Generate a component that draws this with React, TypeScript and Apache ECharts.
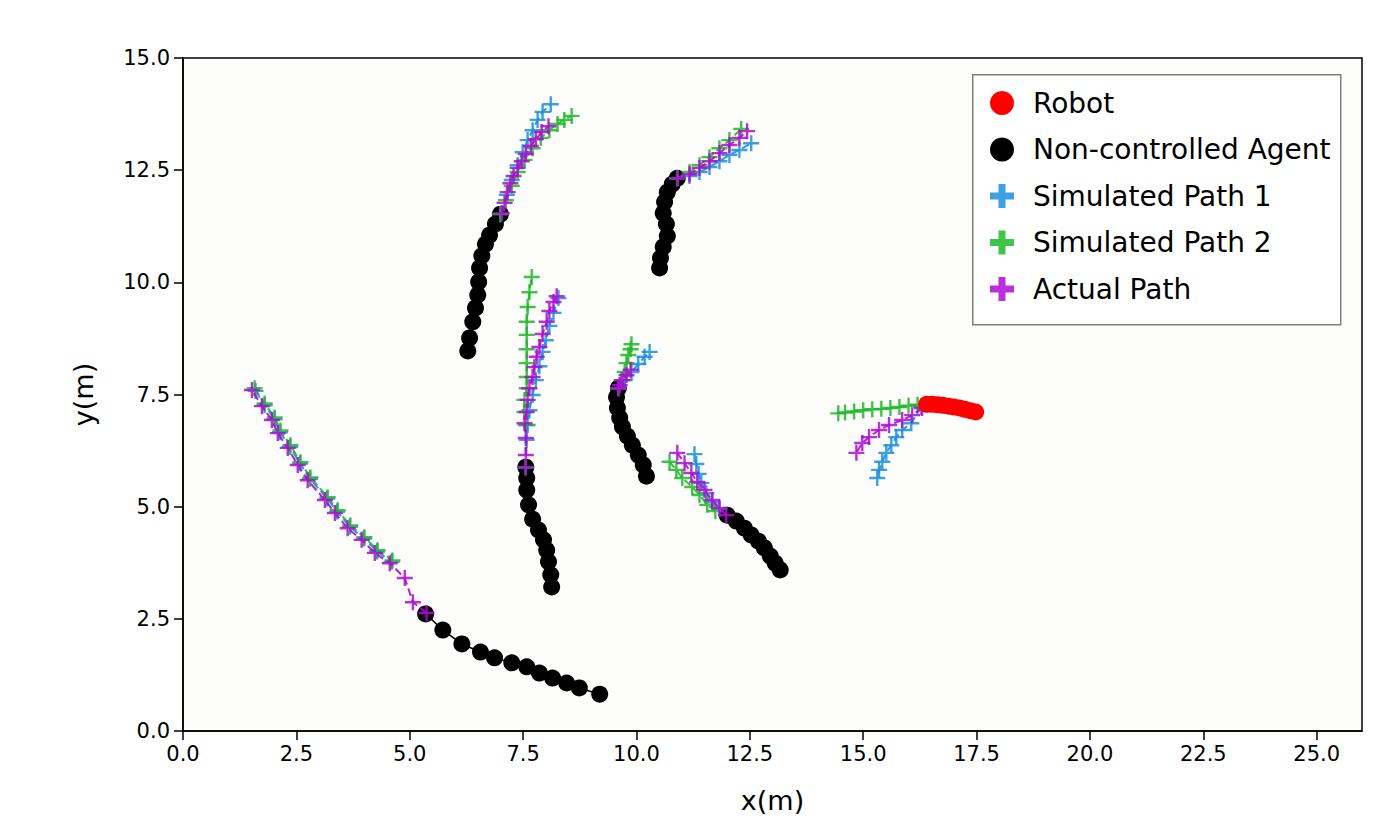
import { useEffect, useRef } from "react";
import * as echarts from "echarts";

type Pt = [number, number];

const xTicks = [0, 2.5, 5, 7.5, 10, 12.5, 15, 17.5, 20, 22.5, 25];
const yTicks = [0, 2.5, 5, 7.5, 10, 12.5, 15];

// robot (red)
const robotPath: Pt[] = [
  [16.4, 7.28], [16.52, 7.28], [16.64, 7.27], [16.76, 7.26], [16.88, 7.24],
  [17.0, 7.22], [17.12, 7.2], [17.24, 7.17], [17.36, 7.14], [17.48, 7.11],
];

// non-controlled agents (black)
const agentA: Pt[] = [
  [5.35, 2.61], [5.73, 2.25], [6.15, 1.94], [6.56, 1.76], [6.87, 1.63], [7.25, 1.52],
  [7.58, 1.43], [7.86, 1.29], [8.15, 1.18], [8.46, 1.07], [8.74, 0.96], [9.19, 0.82],
];
const agentB: Pt[] = [
  [6.28, 8.47], [6.32, 8.76], [6.39, 9.12], [6.45, 9.43], [6.5, 9.72], [6.52, 10.01],
  [6.54, 10.32], [6.59, 10.59], [6.67, 10.85], [6.76, 11.05], [6.89, 11.3], [7.0, 11.52],
];
const agentC: Pt[] = [
  [8.13, 3.21], [8.11, 3.48], [8.06, 3.77], [8.02, 4.03], [7.95, 4.26], [7.84, 4.48],
  [7.71, 4.72], [7.62, 5.04], [7.58, 5.37], [7.58, 5.64], [7.56, 5.88],
];
const agentD: Pt[] = [
  [10.22, 5.68], [10.15, 5.93], [10.04, 6.15], [9.91, 6.37], [9.8, 6.57],
  [9.69, 6.78], [9.63, 6.98], [9.58, 7.2], [9.56, 7.44], [9.6, 7.64],
];
const agentE: Pt[] = [
  [10.51, 10.32], [10.53, 10.54], [10.59, 10.79], [10.68, 11.03], [10.66, 11.3],
  [10.59, 11.54], [10.62, 11.79], [10.68, 12.01], [10.79, 12.19], [10.9, 12.32],
];
const agentF: Pt[] = [
  [12.0, 4.81], [12.2, 4.68], [12.38, 4.52], [12.53, 4.37], [12.69, 4.23],
  [12.82, 4.08], [12.95, 3.9], [13.06, 3.74], [13.17, 3.59],
];

// simulated path 1 (blue)
const sim1A: Pt[] = [
  [1.6, 7.58], [1.8, 7.26], [2.02, 6.95], [2.14, 6.66], [2.36, 6.33], [2.58, 5.96], [2.8, 5.62],
  [3.18, 5.18], [3.4, 4.89], [3.68, 4.55], [3.99, 4.29], [4.28, 4.0], [4.6, 3.77],
];
const sim1B: Pt[] = [
  [7.0, 11.52], [7.14, 11.95], [7.25, 12.28], [7.38, 12.61], [7.49, 12.9], [7.6, 13.17],
  [7.71, 13.39], [7.82, 13.62], [7.93, 13.8], [8.11, 13.97],
];
const sim1C: Pt[] = [
  [7.56, 5.88], [7.58, 6.49], [7.6, 6.82], [7.64, 7.15], [7.71, 7.49], [7.78, 7.82],
  [7.86, 8.13], [7.93, 8.45], [8.0, 8.71], [8.08, 9.03], [8.17, 9.32], [8.28, 9.65],
];
const sim1D: Pt[] = [
  [9.6, 7.64], [9.74, 7.82], [9.89, 8.0], [10.04, 8.18], [10.18, 8.34], [10.29, 8.45],
];
const sim1E: Pt[] = [
  [10.9, 12.32], [11.17, 12.37], [11.39, 12.46], [11.61, 12.57], [11.83, 12.7],
  [12.05, 12.84], [12.27, 12.95], [12.53, 13.1],
];
const sim1F: Pt[] = [
  [11.83, 4.95], [11.67, 5.1], [11.54, 5.3], [11.43, 5.53], [11.37, 5.73], [11.32, 5.95], [11.28, 6.17],
];
const sim1Robot: Pt[] = [
  [16.28, 7.22], [16.06, 6.86], [15.86, 6.71], [15.73, 6.55], [15.62, 6.37],
  [15.51, 6.2], [15.42, 6.0], [15.35, 5.82], [15.31, 5.64],
];

// simulated path 2 (green)
const sim2A: Pt[] = [
  [1.58, 7.64], [1.8, 7.3], [2.02, 6.99], [2.15, 6.7], [2.37, 6.37], [2.59, 5.99], [2.81, 5.65],
  [3.19, 5.21], [3.41, 4.92], [3.69, 4.58], [4.0, 4.32], [4.29, 4.03], [4.62, 3.8],
];
const sim2B: Pt[] = [
  [7.0, 11.52], [7.12, 11.83], [7.25, 12.15], [7.38, 12.46], [7.53, 12.73], [7.71, 12.99],
  [7.89, 13.22], [8.08, 13.39], [8.26, 13.53], [8.41, 13.62], [8.57, 13.71],
];
const sim2C: Pt[] = [
  [7.56, 5.88], [7.56, 6.82], [7.53, 7.11], [7.53, 7.38], [7.58, 7.64], [7.58, 7.89],
  [7.58, 8.2], [7.58, 8.51], [7.58, 8.83], [7.58, 9.12], [7.6, 9.45], [7.64, 9.78], [7.69, 10.12],
];
const sim2D: Pt[] = [
  [9.6, 7.64], [9.67, 7.82], [9.74, 8.0], [9.78, 8.2], [9.82, 8.38], [9.87, 8.51], [9.89, 8.62],
];
const sim2E: Pt[] = [
  [10.9, 12.32], [11.17, 12.46], [11.39, 12.61], [11.61, 12.79], [11.83, 12.99],
  [12.05, 13.17], [12.31, 13.42],
];
const sim2F: Pt[] = [
  [11.74, 4.9], [11.56, 5.04], [11.39, 5.26], [11.23, 5.44], [11.01, 5.64], [10.88, 5.82], [10.73, 6.0],
];
const sim2Robot: Pt[] = [
  [16.2, 7.27], [16.0, 7.25], [15.8, 7.22], [15.6, 7.2], [15.4, 7.18],
  [15.2, 7.17], [15.0, 7.15], [14.8, 7.12], [14.6, 7.1], [14.45, 7.08],
];

// actual path (purple)
const actualA: Pt[] = [
  [5.37, 2.63], [5.07, 2.87], [4.89, 3.41], [4.56, 3.74], [4.23, 3.97], [3.94, 4.26],
  [3.63, 4.52], [3.35, 4.86], [3.13, 5.15], [2.75, 5.59], [2.53, 5.93], [2.31, 6.31],
  [2.09, 6.64], [1.96, 6.93], [1.74, 7.24], [1.52, 7.6],
];
const actualB: Pt[] = [
  [7.03, 11.54], [7.09, 11.77], [7.16, 12.01], [7.22, 12.21], [7.29, 12.37], [7.38, 12.55],
  [7.47, 12.7], [7.56, 12.86], [7.67, 13.04], [7.78, 13.19], [7.91, 13.35], [8.06, 13.48],
];
const actualC: Pt[] = [
  [7.56, 5.88], [7.56, 6.15], [7.56, 6.53], [7.53, 6.86], [7.58, 7.11], [7.6, 7.38],
  [7.64, 7.64], [7.71, 7.89], [7.75, 8.11], [7.8, 8.34], [7.86, 8.56], [7.93, 8.85],
  [8.02, 9.12], [8.08, 9.36], [8.17, 9.56], [8.24, 9.69],
];
const actualD: Pt[] = [
  [9.6, 7.64], [9.63, 7.71], [9.69, 7.82], [9.78, 7.93], [9.87, 8.05],
];
const actualE: Pt[] = [
  [10.9, 12.32], [11.17, 12.41], [11.39, 12.55], [11.61, 12.7], [11.83, 12.88],
  [12.05, 13.06], [12.27, 13.22], [12.44, 13.37],
];
const actualF: Pt[] = [
  [11.98, 4.81], [11.83, 4.97], [11.67, 5.15], [11.5, 5.37], [11.34, 5.55],
  [11.21, 5.75], [11.06, 5.97], [10.9, 6.2],
];
const actualRobot: Pt[] = [
  [16.3, 7.2], [16.08, 7.04], [15.86, 6.93], [15.57, 6.82], [15.35, 6.71],
  [15.13, 6.55], [14.98, 6.42], [14.85, 6.2],
];

const agentPaths = [agentA, agentB, agentC, agentD, agentE, agentF];
const sim1Paths = [sim1A, sim1B, sim1C, sim1D, sim1E, sim1F, sim1Robot];
const sim2Paths = [sim2A, sim2B, sim2C, sim2D, sim2E, sim2F, sim2Robot];
const actualPaths = [actualA, actualB, actualC, actualD, actualE, actualF, actualRobot];

const FONT = "DejaVu Sans";
const THIN_PLUS = "path://M0,6.8H16V9.2H0Z M6.8,0H9.2V16H6.8Z";
const THICK_PLUS = "path://M8.5,0H15.5V8.5H24V15.5H15.5V24H8.5V15.5H0V8.5H8.5Z";

const BLUE = "#1a8fdc";
const GREEN = "#1eb829";
const PURPLE = "#b00ad6";

function plusSeries(name: string, color: string, paths: Pt[][], z: number) {
  return paths.map((data) => ({
    name,
    type: "line",
    data,
    z,
    symbol: THIN_PLUS,
    symbolSize: 16,
    itemStyle: { color, opacity: 0.85 },
    lineStyle: { color, width: 2, type: "dashed", opacity: 0.9 },
  }));
}

export default function App() {
  const chartRef = useRef<HTMLDivElement>(null);

  useEffect(() => {
    document.body.style.margin = "0";
    let chart: echarts.ECharts | null = null;

    if (chartRef.current) {
      chart = echarts.init(chartRef.current, null, { renderer: "svg" });

      const agentSeries = agentPaths.map((data) => ({
        name: "Non-controlled Agent",
        type: "line",
        data,
        z: 2,
        symbol: "circle",
        symbolSize: 17,
        itemStyle: { color: "#000000" },
        lineStyle: { color: "#000000", width: 1.5 },
      }));

      chart.setOption({
        animation: false,
        backgroundColor: "#ffffff",
        textStyle: { fontFamily: FONT },
        grid: {
          left: 183,
          right: 15,
          top: 58,
          bottom: 98,
          show: true,
          borderColor: "#000000",
          borderWidth: 1.5,
          backgroundColor: "#fdfdfb",
        },
        graphic: [
          {
            type: "rect",
            left: 972,
            top: 74,
            z: 10,
            shape: { width: 368, height: 250 },
            style: { fill: "#ffffff", stroke: "#7f7f7f", lineWidth: 1.5 },
          },
        ],
        legend: {
          orient: "vertical",
          left: 990,
          top: 89,
          padding: 0,
          z: 20,
          itemWidth: 24,
          itemHeight: 24,
          itemGap: 18.5,
          selectedMode: false,
          textStyle: {
            fontSize: 28,
            color: "#000000",
            fontFamily: FONT,
            padding: [0, 0, 0, 14],
          },
          data: [
            { name: "Robot", icon: "circle" },
            { name: "Non-controlled Agent", icon: "circle" },
            { name: "Simulated Path 1", icon: THICK_PLUS },
            { name: "Simulated Path 2", icon: THICK_PLUS },
            { name: "Actual Path", icon: THICK_PLUS },
          ],
        },
        xAxis: {
          type: "value",
          min: 0,
          max: 26,
          name: "x(m)",
          nameLocation: "middle",
          nameGap: 56,
          nameTextStyle: { fontSize: 27, color: "#000000", fontFamily: FONT },
          axisLine: { show: true, onZero: false, lineStyle: { color: "#000000", width: 1.5 } },
          axisTick: {
            show: true,
            customValues: xTicks,
            length: 9,
            lineStyle: { color: "#000000", width: 1.5 },
          },
          axisLabel: {
            customValues: xTicks,
            margin: 12,
            fontSize: 21,
            color: "#000000",
            fontFamily: FONT,
            formatter: (v: number) => v.toFixed(1),
          },
          splitLine: { show: false },
        },
        yAxis: {
          type: "value",
          min: 0,
          max: 15,
          interval: 2.5,
          name: "y(m)",
          nameLocation: "middle",
          nameGap: 86,
          nameTextStyle: { fontSize: 27, color: "#000000", fontFamily: FONT },
          axisLine: { show: true, onZero: false, lineStyle: { color: "#000000", width: 1.5 } },
          axisTick: {
            show: true,
            customValues: yTicks,
            length: 9,
            lineStyle: { color: "#000000", width: 1.5 },
          },
          axisLabel: {
            customValues: yTicks,
            margin: 13,
            fontSize: 21,
            color: "#000000",
            fontFamily: FONT,
            formatter: (v: number) => v.toFixed(1),
          },
          splitLine: { show: false },
        },
        series: [
          ...agentSeries,
          ...plusSeries("Simulated Path 1", BLUE, sim1Paths, 3),
          ...plusSeries("Simulated Path 2", GREEN, sim2Paths, 4),
          ...plusSeries("Actual Path", PURPLE, actualPaths, 5),
          {
            name: "Robot",
            type: "line",
            data: robotPath,
            z: 6,
            symbol: "circle",
            symbolSize: 17,
            itemStyle: { color: "#ff0000" },
            lineStyle: { color: "#ff0000", width: 1.5 },
          },
        ],
      });
    }

    return () => {
      if (chart) {
        chart.dispose();
      }
    };
  }, []);

  return <div ref={chartRef} style={{ width: 1377, height: 829 }} />;
}
